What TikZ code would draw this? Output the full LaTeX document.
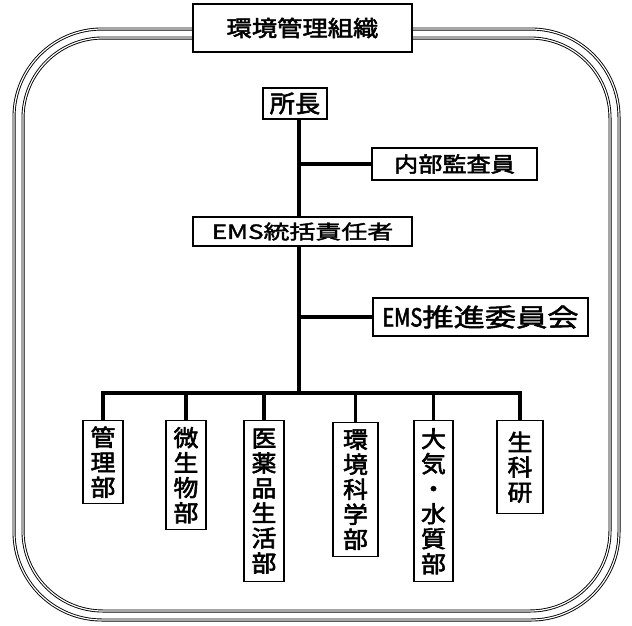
\documentclass[tikz,border=0pt]{standalone}
\usepackage{fontspec}
\setmainfont{Noto Sans CJK JP}
\newfontfamily\jpTitle[FakeStretch=1.15,FakeBold=2.5]{Noto Sans CJK JP}
\newfontfamily\jpA[FakeStretch=1.05,FakeBold=2.5]{Noto Sans CJK JP}
\newfontfamily\jpB[FakeStretch=1.15,FakeBold=2.5]{Noto Sans CJK JP}
\newfontfamily\jpC[FakeStretch=1.33,FakeBold=2]{Noto Sans CJK JP}
\newfontfamily\jpD[FakeStretch=1.25,FakeBold=2]{Noto Sans CJK JP}
\newfontfamily\jpN[FakeStretch=0.8,FakeBold=2]{Noto Sans CJK JP}
\newfontfamily\jpV[FakeStretch=1.08,FakeBold=2.5]{Noto Sans CJK JP}
\begin{document}
\begin{tikzpicture}[x=1pt,y=-1pt,
  frameline/.style={draw=black, line width=0.9pt, double=white, double distance=1.2pt, rounded corners=88pt},
  box/.style={draw=black, line width=1.3pt, fill=white, inner sep=0pt, align=center},
  vbox/.style={box, anchor=north, font=\jpV\fontsize{23}{25}\selectfont},
  conn/.style={draw=black, line width=3.8pt}
]
\useasboundingbox (0,0) rectangle (632,625);
\fill[white] (0,0) rectangle (632,625);
% frame
\draw[frameline] (14,29) rectangle (619,620);
\draw[frameline, rounded corners=80pt] (23,38) rectangle (610,611);
% title
\node[box, minimum width=219pt, minimum height=48pt, font=\jpTitle\fontsize{22}{24}\selectfont] (title) at (302.5,28) {環境管理組織};
% nodes
\node[box, minimum width=64pt, minimum height=31pt, font=\jpA\fontsize{24}{26}\selectfont] (chief) at (295,103.5) {所長};
\node[box, minimum width=165pt, minimum height=32pt, font=\jpB\fontsize{21}{23}\selectfont] (audit) at (454.5,164) {内部監査員};
\node[box, minimum width=219pt, minimum height=29pt, font=\jpC\fontsize{19.5}{22}\selectfont] (ems) at (302.5,231.5) {EMS統括責任者};
\node[box, minimum width=215pt, minimum height=38pt, font=\jpD\fontsize{25}{27}\selectfont] (comm) at (480.5,317) {{\jpN EMS}推進委員会};
% main line
\coordinate (trunk1) at (299,119);
\coordinate (bus) at (299,393);
\draw[conn] (chief.south -| trunk1) -- (ems.north -| trunk1);
\draw[conn] (ems.south -| trunk1) -- (bus);
\draw[conn] (audit.west) -- (audit.west -| trunk1);
\draw[conn] (comm.west) -- (comm.west -| trunk1);
% departments
\node[vbox, minimum width=40pt, minimum height=83pt] (d1) at (103,420) {管\\理\\部};
\node[vbox, minimum width=40pt, minimum height=109pt] (d2) at (186,420) {微\\生\\物\\部};
\node[vbox, minimum width=40pt, minimum height=161pt] (d3) at (264,420) {医\\薬\\品\\生\\活\\部};
\node[vbox, minimum width=45pt, minimum height=134pt] (d4) at (355.5,422) {環\\境\\科\\学\\部};
\node[vbox, minimum width=39pt, minimum height=161pt] (d5) at (433.5,420) {大\\気\\・\\水\\質\\部};
\node[vbox, minimum width=46pt, minimum height=93pt] (d6) at (520,420) {生\\科\\研};
\coordinate (busL) at (103,393);
\coordinate (busR) at (520,393);
\draw[conn, line cap=rect] (busL) -- (busR);
\foreach \d in {d1,d2,d3,d4,d5,d6}{
  \draw[conn] (\d.north) -- (\d.north |- bus);
}
\end{tikzpicture}
\end{document}
